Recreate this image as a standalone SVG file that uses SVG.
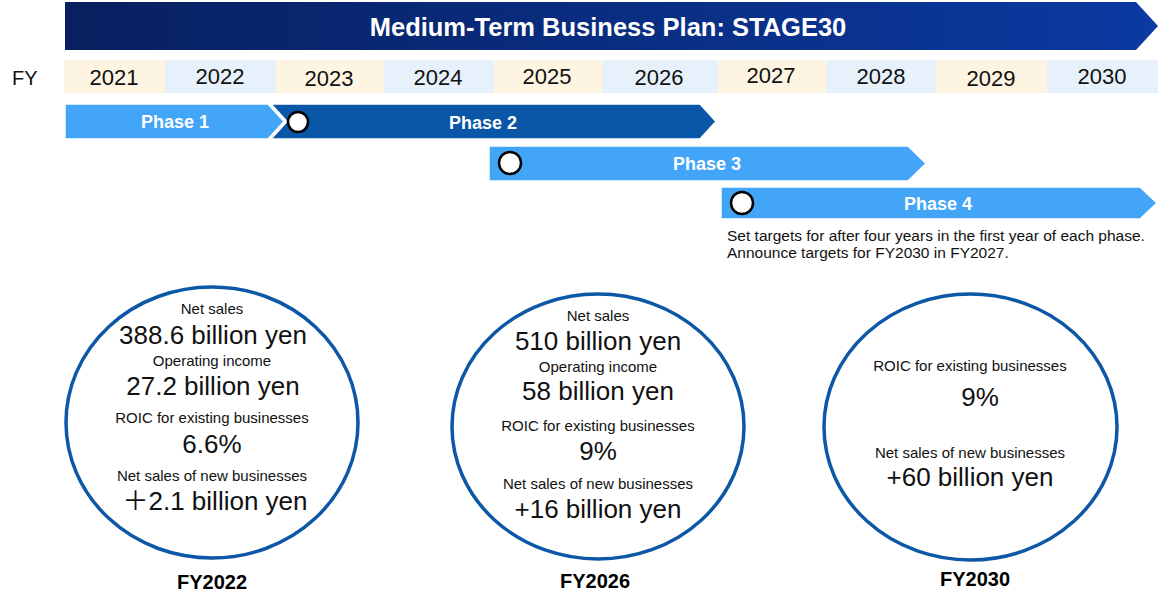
<svg xmlns="http://www.w3.org/2000/svg" width="1170" height="604" viewBox="0 0 1170 604">
<defs>
<linearGradient id="bannerGrad" x1="0" y1="0" x2="1" y2="0">
<stop offset="0" stop-color="#08205f"/>
<stop offset="1" stop-color="#0b3aa2"/>
</linearGradient>
<style>
text{font-family:"Liberation Sans",Arial,"Noto Sans CJK JP",sans-serif;fill:#111}
.title{font-size:25.5px;font-weight:bold;fill:#fff}
.yr{font-size:22px;text-anchor:middle}
.ycA{fill:#fdf5e2}
.ycB{fill:#e7f1fb}
.ph{font-size:18px;font-weight:bold;fill:#fff;text-anchor:middle}
.light{fill:#42a5f7;stroke:#fff;stroke-width:1.5}
.dark{fill:#0a57a7;stroke:#fff;stroke-width:1.5}
.dot{fill:#fff;stroke:#000;stroke-width:2.5}
.note{font-size:15.5px}
.ring{fill:#fff;stroke:#0d57a7;stroke-width:3.5}
.s{font-size:15px;text-anchor:middle}
.b{font-size:26px;text-anchor:middle}
.fy{font-size:20px;font-weight:bold;text-anchor:middle;fill:#000}
</style>
</defs>
<rect width="1170" height="604" fill="#fff"/>

<g id="banner">
<polygon points="65,2 1136,2 1158,26 1136,50 65,50" fill="url(#bannerGrad)"/>
<text class="title" x="608" y="36" text-anchor="middle">Medium-Term Business Plan: STAGE30</text>
</g>

<g id="years">
<text x="12" y="85" style="font-size:20px">FY</text>
<rect class="ycA" x="64" y="60" width="101" height="33"/>
<rect class="ycB" x="165" y="60" width="111" height="33"/>
<rect class="ycA" x="276" y="60" width="108" height="33"/>
<rect class="ycB" x="384" y="60" width="110" height="33"/>
<rect class="ycA" x="494" y="60" width="108" height="33"/>
<rect class="ycB" x="602" y="60" width="116" height="33"/>
<rect class="ycA" x="718" y="60" width="108" height="33"/>
<rect class="ycB" x="826" y="60" width="110" height="33"/>
<rect class="ycA" x="936" y="60" width="111" height="33"/>
<rect class="ycB" x="1047" y="60" width="111" height="33"/>
<text class="yr" x="114" y="85">2021</text>
<text class="yr" x="220" y="84">2022</text>
<text class="yr" x="329" y="86">2023</text>
<text class="yr" x="438" y="85">2024</text>
<text class="yr" x="547" y="84">2025</text>
<text class="yr" x="659" y="85">2026</text>
<text class="yr" x="771" y="83">2027</text>
<text class="yr" x="881" y="84">2028</text>
<text class="yr" x="991" y="86">2029</text>
<text class="yr" x="1102" y="84">2030</text>
</g>

<g id="phase1">
<polygon class="light" points="65,104 268,104 284,121.5 268,139 65,139"/>
<text class="ph" x="175" y="128">Phase 1</text>
</g>
<g id="phase2">
<polygon class="dark" points="271,104 700,104 716,121.5 700,139 271,139 287,121.5"/>
<circle class="dot" cx="298" cy="122" r="10"/>
<text class="ph" x="483" y="129">Phase 2</text>
</g>
<g id="phase3">
<polygon class="light" points="489,146 908,146 926,163.5 908,181 489,181"/>
<circle class="dot" cx="510" cy="163" r="11"/>
<text class="ph" x="707" y="170">Phase 3</text>
</g>
<g id="phase4">
<polygon class="light" points="721,187 1140,187 1157,203 1140,219 721,219"/>
<circle class="dot" cx="742" cy="203" r="11"/>
<text class="ph" x="938" y="210">Phase 4</text>
</g>

<g id="note">
<text class="note" x="727" y="241">Set targets for after four years in the first year of each phase.</text>
<text class="note" x="727" y="258">Announce targets for FY2030 in FY2027.</text>
</g>

<g id="connectors"></g>

<g id="fy2022">
<ellipse class="ring" cx="212" cy="422.5" rx="146" ry="135.5"/>
<text class="s" x="212" y="314">Net sales</text>
<text class="b" x="213" y="344">388.6 billion yen</text>
<text class="s" x="212" y="366">Operating income</text>
<text class="b" x="213" y="395">27.2 billion yen</text>
<text class="s" x="212" y="423">ROIC for existing businesses</text>
<text class="b" x="212" y="453">6.6%</text>
<text class="s" x="212" y="481">Net sales of new businesses</text>
<text class="b" x="215" y="510">＋2.1 billion yen</text>
<text class="fy" x="212" y="589">FY2022</text>
</g>

<g id="fy2026">
<ellipse class="ring" cx="598" cy="426.5" rx="146" ry="132.5"/>
<text class="s" x="598" y="321">Net sales</text>
<text class="b" x="598" y="350">510 billion yen</text>
<text class="s" x="598" y="372">Operating income</text>
<text class="b" x="598" y="400">58 billion yen</text>
<text class="s" x="598" y="431">ROIC for existing businesses</text>
<text class="b" x="598" y="460">9%</text>
<text class="s" x="598" y="489">Net sales of new businesses</text>
<text class="b" x="598" y="518">+16 billion yen</text>
<text class="fy" x="595" y="588">FY2026</text>
</g>

<g id="fy2030">
<ellipse class="ring" cx="970.5" cy="427" rx="146.5" ry="133"/>
<text class="s" x="970" y="371">ROIC for existing businesses</text>
<text class="b" x="980" y="406">9%</text>
<text class="s" x="970" y="458">Net sales of new businesses</text>
<text class="b" x="970" y="486">+60 billion yen</text>
<text class="fy" x="975" y="586">FY2030</text>
</g>
</svg>
